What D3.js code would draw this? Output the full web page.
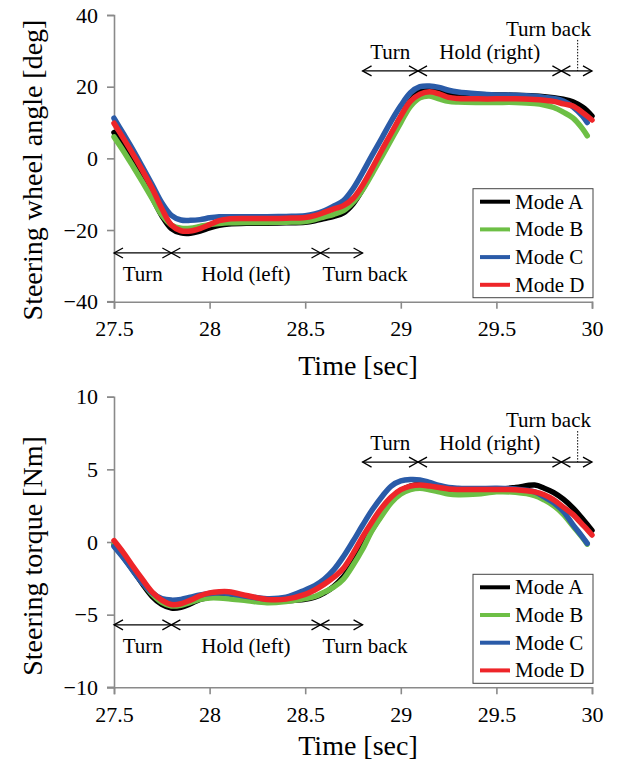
<!DOCTYPE html>
<html>
<head>
<meta charset="utf-8">
<script src="https://cdn.jsdelivr.net/npm/d3@7"></script>
<style>
  html, body { margin: 0; padding: 0; background: #fff; }
  svg text { font-family: "Liberation Serif", "Times New Roman", serif !important; fill: #000; }
</style>
</head>
<body>
<svg id="chart" width="619" height="767"></svg>
<script>
// ---------------- DATA ----------------
const modes = ["Mode A", "Mode B", "Mode C", "Mode D"];
const time = [27.5, 27.55, 27.6, 27.65, 27.7, 27.75, 27.8, 27.85, 27.9, 27.95, 28.0, 28.05, 28.1, 28.2, 28.3, 28.4, 28.5, 28.55, 28.6, 28.65, 28.7, 28.75, 28.8, 28.85, 28.9, 28.95, 29.0, 29.05, 29.1, 29.15, 29.2, 29.25, 29.3, 29.4, 29.5, 29.6, 29.7, 29.75, 29.8, 29.85, 29.9, 29.95, 29.975, 30.0];

// Steering wheel angle [deg]
const angleA = [7.2, 3.0, -1.4, -6.0, -10.9, -16.0, -19.6, -20.8, -20.9, -20.3, -19.4, -18.7, -18.3, -18.1, -18.1, -18.0, -17.8, -17.4, -16.8, -16.2, -15.2, -12.7, -8.6, -3.6, 1.5, 6.7, 11.6, 16.0, 18.8, 19.5, 19.0, 18.3, 18.0, 17.8, 17.7, 17.6, 17.4, 17.2, 16.9, 16.5, 15.8, 14.3, 13.2, 11.8];
const angleB = [6.0, 2.0, -2.3, -6.7, -11.2, -15.8, -18.6, -19.5, -19.5, -19.0, -18.5, -18.2, -18.0, -17.9, -17.9, -17.8, -17.6, -17.1, -16.3, -15.6, -14.6, -12.3, -8.8, -4.3, 0.4, 5.2, 10.0, 14.5, 16.9, 17.4, 16.6, 15.9, 15.7, 15.6, 15.6, 15.6, 15.3, 14.9, 14.2, 12.9, 11.3, 8.3, 6.3, null];
const angleC = [11.2, 6.8, 2.3, -2.5, -7.4, -12.4, -15.9, -17.2, -17.3, -17.1, -16.6, -16.3, -16.3, -16.3, -16.3, -16.2, -16.0, -15.5, -14.6, -13.3, -11.8, -8.5, -4.0, 0.9, 5.6, 10.4, 14.7, 18.3, 20.0, 20.2, 19.8, 19.0, 18.5, 18.0, 17.7, 17.6, 17.3, 17.0, 16.7, 16.0, 14.4, 11.8, 10.0, null];
const angleD = [9.8, 5.5, 1.1, -3.5, -8.4, -14.0, -18.6, -20.2, -20.3, -19.6, -18.5, -17.4, -16.9, -16.8, -16.8, -16.7, -16.5, -16.0, -15.1, -14.1, -13.2, -11.2, -7.5, -2.8, 2.2, 7.0, 11.8, 15.9, 17.9, 18.6, 18.0, 17.0, 16.7, 16.6, 16.6, 16.6, 16.4, 16.2, 15.9, 15.2, 14.6, 12.8, 11.8, 10.7];

// Steering torque [Nm]
const torqueA = [-0.2, -1.05, -1.95, -2.9, -3.75, -4.3, -4.55, -4.5, -4.25, -3.95, -3.8, -3.75, -3.78, -3.95, -4.05, -4.05, -3.95, -3.8, -3.5, -3.05, -2.4, -1.45, -0.3, 0.85, 1.9, 2.85, 3.5, 3.85, 3.95, 3.85, 3.7, 3.62, 3.6, 3.6, 3.62, 3.75, 3.92, 3.7, 3.4, 2.95, 2.35, 1.6, 1.2, 0.8];
const torqueB = [-0.2, -1.0, -1.9, -2.8, -3.6, -4.15, -4.4, -4.35, -4.15, -3.95, -3.85, -3.85, -3.9, -4.05, -4.18, -4.1, -3.9, -3.75, -3.45, -3.1, -2.55, -1.6, -0.5, 0.8, 1.8, 2.7, 3.3, 3.6, 3.7, 3.6, 3.45, 3.3, 3.25, 3.3, 3.45, 3.42, 3.2, 2.9, 2.5, 1.9, 1.1, 0.3, -0.15, null];
const torqueC = [-0.3, -1.1, -2.0, -2.85, -3.5, -3.9, -4.0, -3.95, -3.8, -3.65, -3.55, -3.5, -3.55, -3.75, -3.9, -3.8, -3.3, -3.0, -2.55, -1.9, -1.0, 0.05, 1.15, 2.2, 3.1, 3.85, 4.2, 4.3, 4.27, 4.1, 3.9, 3.75, 3.7, 3.68, 3.7, 3.65, 3.45, 3.1, 2.7, 2.1, 1.2, 0.35, -0.1, null];
const torqueD = [0.1, -0.75, -1.7, -2.6, -3.45, -4.0, -4.3, -4.25, -4.0, -3.7, -3.5, -3.42, -3.42, -3.7, -3.95, -3.93, -3.6, -3.3, -2.9, -2.42, -1.8, -0.8, 0.35, 1.4, 2.35, 3.1, 3.6, 3.85, 3.92, 3.85, 3.75, 3.65, 3.62, 3.62, 3.62, 3.6, 3.45, 3.25, 2.9, 2.4, 1.9, 1.2, 0.85, 0.48];

const xTicks = [27.5, 28, 28.5, 29, 29.5, 30];
const xTickLabels = ["27.5", "28", "28.5", "29", "29.5", "30"];
const angleTicks = [-40, -20, 0, 20, 40];
const torqueTicks = [-10, -5, 0, 5, 10];

// Phase annotations (times in sec)
const leftPhases = [27.5, 27.8, 28.58, 28.8];
const leftPhaseLabels = ["Turn", "Hold (left)", "Turn back"];
const rightPhases = [28.8, 29.09, 29.84, 30.0];
const rightPhaseLabels = ["Turn", "Hold (right)", "Turn back"];
const turnBackMarkTime = 29.925;
const angleArrowLevels = [-26.4, 24.4];   // left arrows, right arrows [deg]
const torqueArrowLevels = [-5.7, 5.5];    // left arrows, right arrows [Nm]

const colors = ["#000000", "#6dbf45", "#2a5ba8", "#ee2529"];

// ---------------- DRAW ----------------
const svg = d3.select("#chart");
const axisColor = "#8a8a8a";
const serif = "'Liberation Serif', 'Times New Roman', serif";

function drawChart(cfg) {
  const g = svg.append("g");
  const x = d3.scaleLinear().domain([27.5, 30]).range([114, 592]);
  const y = d3.scaleLinear().domain(cfg.yDomain).range([cfg.yBottom, cfg.yTop]);

  // y axis
  const yAxis = d3.axisLeft(y).tickValues(cfg.yTicks).tickSize(7).tickPadding(9)
    .tickFormat(d => d < 0 ? "\u2212" + Math.abs(d) : String(d));
  const ya = g.append("g").attr("transform", "translate(114,0)").call(yAxis)
    .attr("font-family", serif);
  ya.select(".domain").attr("stroke", axisColor).attr("stroke-width", 1.6);
  ya.selectAll(".tick line").attr("stroke", axisColor).attr("stroke-width", 1.6);
  ya.selectAll(".tick text").attr("font-size", 22).attr("fill", "#000").style("font-family", serif);

  // x axis
  const xAxis = d3.axisBottom(x).tickValues(xTicks).tickSize(7).tickPadding(12)
    .tickFormat((d, i) => xTickLabels[i]);
  const xa = g.append("g").attr("transform", `translate(0,${cfg.yBottom})`).call(xAxis)
    .attr("font-family", serif);
  xa.select(".domain").attr("stroke", axisColor).attr("stroke-width", 1.6);
  xa.selectAll(".tick line").attr("stroke", axisColor).attr("stroke-width", 1.6);
  xa.selectAll(".tick text").attr("font-size", 22).attr("fill", "#000").style("font-family", serif);
  g.append("line").attr("x1", 107).attr("x2", 114).attr("y1", cfg.yBottom).attr("y2", cfg.yBottom)
    .attr("stroke", axisColor).attr("stroke-width", 1.6);

  // axis titles
  g.append("text").attr("transform", `translate(42,${cfg.yTitleCenter}) rotate(-90)`)
    .attr("text-anchor", "middle").attr("font-size", 28).text(cfg.yTitle);
  g.append("text").attr("x", 358).attr("y", cfg.xTitleY)
    .attr("text-anchor", "middle").attr("font-size", 28).text("Time [sec]");

  // series
  const line = d3.line()
    .defined(d => d[1] !== null)
    .x(d => x(d[0])).y(d => y(d[1]))
    .curve(d3.curveCatmullRom.alpha(0.5));
  cfg.series.forEach((s, i) => {
    const pts = time.map((t, k) => [t, s[k]]);
    g.append("path").datum(pts).attr("d", line)
      .attr("fill", "none").attr("stroke", colors[i]).attr("stroke-width", 5.5)
      .attr("stroke-linejoin", "round").attr("stroke-linecap", "round");
  });

  // phase arrows
  function arrowSeg(x1, x2, yy) {
    g.append("line").attr("x1", x1).attr("x2", x2).attr("y1", yy).attr("y2", yy)
      .attr("stroke", "#000").attr("stroke-width", 1.3);
    const hl = 9, hw = 5;
    g.append("path").attr("d", `M${x1 + hl},${yy - hw}L${x1},${yy}L${x1 + hl},${yy + hw}`)
      .attr("fill", "none").attr("stroke", "#000").attr("stroke-width", 1.3);
    g.append("path").attr("d", `M${x2 - hl},${yy - hw}L${x2},${yy}L${x2 - hl},${yy + hw}`)
      .attr("fill", "none").attr("stroke", "#000").attr("stroke-width", 1.3);
  }
  const yl = y(cfg.arrowLevels[0]);
  for (let i = 0; i < 3; i++) arrowSeg(x(leftPhases[i]), x(leftPhases[i + 1]), yl);
  g.append("text").attr("x", (x(leftPhases[0]) + x(leftPhases[1])) / 2).attr("y", yl + 28)
    .attr("text-anchor", "middle").attr("font-size", 21).text(leftPhaseLabels[0]);
  g.append("text").attr("x", (x(leftPhases[1]) + x(leftPhases[2])) / 2).attr("y", yl + 28)
    .attr("text-anchor", "middle").attr("font-size", 21).text(leftPhaseLabels[1]);
  g.append("text").attr("x", x(leftPhases[2]) + 2).attr("y", yl + 28)
    .attr("text-anchor", "start").attr("font-size", 21).text(leftPhaseLabels[2]);

  const yr = y(cfg.arrowLevels[1]);
  for (let i = 0; i < 3; i++) arrowSeg(x(rightPhases[i]), x(rightPhases[i + 1]), yr);
  g.append("text").attr("x", (x(rightPhases[0]) + x(rightPhases[1])) / 2).attr("y", yr - 12)
    .attr("text-anchor", "middle").attr("font-size", 21).text(rightPhaseLabels[0]);
  g.append("text").attr("x", (x(rightPhases[1]) + x(rightPhases[2])) / 2).attr("y", yr - 12)
    .attr("text-anchor", "middle").attr("font-size", 21).text(rightPhaseLabels[1]);
  g.append("text").attr("x", x(rightPhases[3]) - 1).attr("y", yr - 35)
    .attr("text-anchor", "end").attr("font-size", 21).text(rightPhaseLabels[2]);
  g.append("line").attr("x1", x(turnBackMarkTime)).attr("x2", x(turnBackMarkTime))
    .attr("y1", yr - 31).attr("y2", yr)
    .attr("stroke", "#000").attr("stroke-width", 1).attr("stroke-dasharray", "1.5,1.5");

  // legend
  const lx0 = 473, lx1 = 593, ly1 = cfg.yBottom - 4, ly0 = ly1 - 109;
  const lg = g.append("g");
  lg.append("rect").attr("x", lx0).attr("y", ly0).attr("width", lx1 - lx0).attr("height", ly1 - ly0)
    .attr("fill", "#fff").attr("stroke", "#444").attr("stroke-width", 1);
  modes.forEach((m, i) => {
    const yy = ly0 + 13 + i * 27.7;
    lg.append("line").attr("x1", 480).attr("x2", 510).attr("y1", yy).attr("y2", yy)
      .attr("stroke", colors[i]).attr("stroke-width", 4);
    lg.append("text").attr("x", 515).attr("y", yy + 7).attr("font-size", 21).text(m);
  });
}

drawChart({
  yDomain: [-40, 40], yTop: 15, yBottom: 301.7, yTicks: angleTicks,
  yTitle: "Steering wheel angle [deg]", yTitleCenter: 170, xTitleY: 375,
  series: [angleA, angleB, angleC, angleD], arrowLevels: angleArrowLevels
});
drawChart({
  yDomain: [-10, 10], yTop: 396.7, yBottom: 687.3, yTicks: torqueTicks,
  yTitle: "Steering torque [Nm]", yTitleCenter: 556, xTitleY: 755,
  series: [torqueA, torqueB, torqueC, torqueD], arrowLevels: torqueArrowLevels
});
</script>
</body>
</html>
